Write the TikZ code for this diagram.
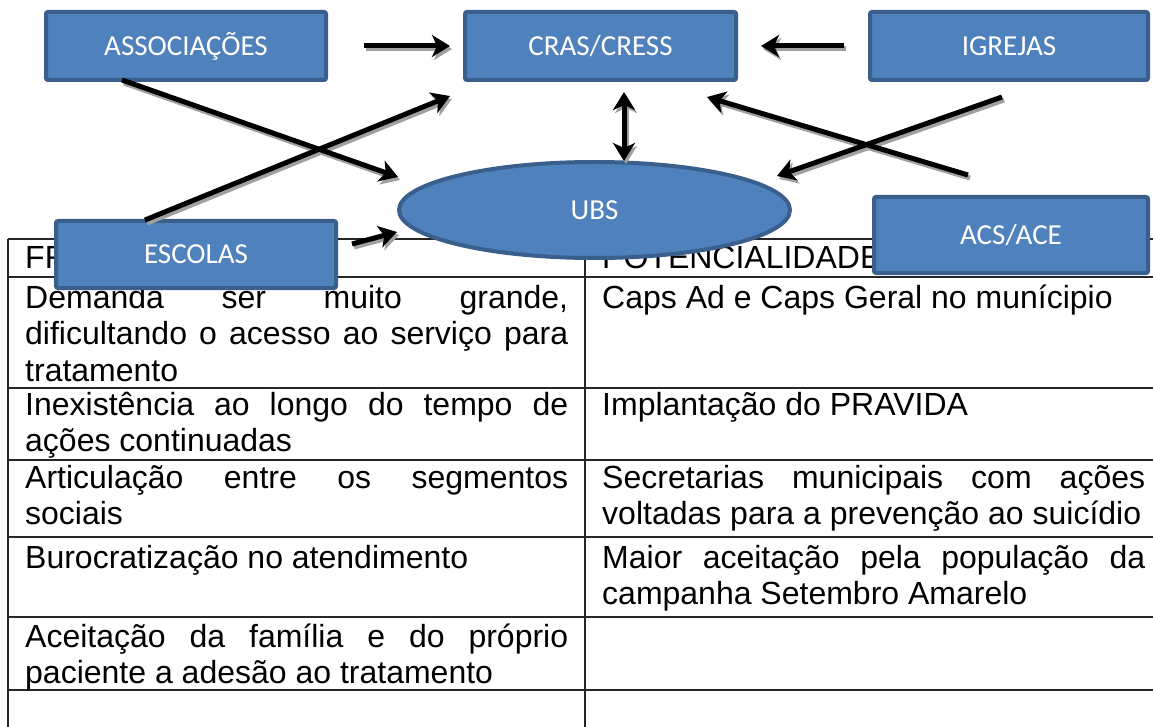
\documentclass[tikz,border=0pt]{standalone}
\usepackage{fontspec}
\newfontfamily\tabfont{Liberation Sans}
\newfontfamily\boxfont{Carlito}
\usetikzlibrary{arrows.meta,calc,shapes.geometric}
\definecolor{boxfill}{HTML}{4F81BD}
\definecolor{boxline}{HTML}{3A5F8C}
\definecolor{shadowgray}{HTML}{A0A0A0}
\hyphenpenalty=10000
\exhyphenpenalty=10000
\begin{document}
\begin{tikzpicture}[x=1pt,y=-1pt,
  orgbox/.style={draw=boxline, fill=boxfill, line width=4pt, rounded corners=2pt,
    text=white, font=\boxfont\fontsize{29}{34}\selectfont, inner sep=0pt, outer sep=0pt},
  orgell/.style={ellipse, draw=boxline, fill=boxfill, line width=4pt, text=white,
    font=\boxfont\fontsize{29}{34}\selectfont, inner sep=0pt, outer sep=0pt},
  conn/.style={line width=5pt, draw=black, -{Stealth[length=18pt,width=22pt,inset=5pt]}},
  dconn/.style={line width=5pt, draw=black, {Stealth[length=18pt,width=22pt,inset=5pt]}-{Stealth[length=18pt,width=22pt,inset=5pt]}},
  shade/.style={draw=shadowgray, transform canvas={shift={(2pt,-3pt)}}},
  tabline/.style={line width=1.2pt, draw=black!85},
  celltext/.style={anchor=north west, inner sep=0pt, text width=543pt, align=justify,
    font=\tabfont\fontsize{32}{36.8}\selectfont, execute at begin node=\strut},
  headtext/.style={anchor=base west, inner sep=0pt, font=\tabfont\fontsize{32}{36.8}\selectfont}
]
\useasboundingbox (0,0) rectangle (1153,727);
\fill[white] (0,0) rectangle (1153,727);

% ---- table ----
\foreach \yy in {239,277,388,460,537,617,690}
  \draw[tabline] (8,\yy) -- (1170,\yy);
\draw[tabline] (8,239) -- (8,740);
\draw[tabline] (585,239) -- (585,740);

\node[headtext] (h1) at (25,269) {FRAGILIDADES};
\node[headtext] (h2) at (602,269) {POTENCIALIDADES};

\node[celltext] (l1) at (25,282.2) {Demanda ser muito grande,\linebreak dificultando o acesso ao servi\c{c}o para\linebreak tratamento};
\node[celltext] (l2) at (25,389.2) {Inexist\^encia ao longo do tempo de\linebreak a\c{c}\~oes continuadas};
\node[celltext] (l3) at (25,462.2) {Articula\c{c}\~ao entre os segmentos\linebreak sociais};
\node[celltext] (l4) at (25,542.2) {Burocratiza\c{c}\~ao no atendimento};
\node[celltext] (l5) at (25,621.2) {Aceita\c{c}\~ao da fam\'ilia e do pr\'oprio\linebreak paciente a ades\~ao ao tratamento};

\node[celltext] (r1) at (602,282.2) {Caps Ad e Caps Geral no mun\'icipio};
\node[celltext] (r2) at (602,389.2) {Implanta\c{c}\~ao do PRAVIDA};
\node[celltext] (r3) at (602,462.2) {Secretarias municipais com a\c{c}\~oes\linebreak voltadas para a preven\c{c}\~ao ao suic\'idio};
\node[celltext] (r4) at (602,542.2) {Maior aceita\c{c}\~ao pela popula\c{c}\~ao da\linebreak campanha Setembro Amarelo};

% ---- shapes ----
\node[orgbox, minimum width=280pt, minimum height=68pt] (assoc) at (186,46) {ASSOCIA\c{C}\~OES};
\node[orgbox, minimum width=271pt, minimum height=68pt] (cras) at (600.5,46) {CRAS/CRESS};
\node[orgbox, minimum width=278pt, minimum height=68pt] (igrejas) at (1009,46) {IGREJAS};
\node[orgell, minimum width=391pt, minimum height=96pt] (ubs) at (594.5,210) {UBS};
\node[orgbox, minimum width=280pt, minimum height=67pt] (escolas) at (196,254.5) {ESCOLAS};
\node[orgbox, minimum width=274pt, minimum height=76pt] (acs) at (1011,235) {ACS/ACE};

% ---- connector end points ----
\coordinate (s1) at ($(assoc.east)+(38,0)$);
\coordinate (t1) at ($(cras.west)+(-15,0)$);
\coordinate (s2) at ($(igrejas.west)+(-26,0)$);
\coordinate (t2) at ($(cras.east)+(25,0)$);
\coordinate (s3) at ($(assoc.south west)+(76,0)$);
\coordinate (t3) at ($(ubs.center)+(-196.5,-33)$);
\coordinate (s4) at ($(escolas.north west)+(89,-1)$);
\coordinate (t4) at ($(cras.south west)+(-15,16)$);
\coordinate (s5) at ($(escolas.east)+(16,-10.5)$);
\coordinate (t5) at ($(ubs.center)+(-197.5,22)$);
\coordinate (t6a) at ($(cras.south)+(23.5,12)$);
\coordinate (t6b) at ($(ubs.north)+(29.5,-1)$);
\coordinate (s7) at ($(acs.north west)+(94,-22)$);
\coordinate (t7) at ($(cras.south east)+(-29,17)$);
\coordinate (s8) at ($(igrejas.south west)+(132,17)$);
\coordinate (t8) at ($(ubs.center)+(182.5,-34)$);

% ---- shadows ----
\draw[conn, shade] (s1) -- (t1);
\draw[conn, shade] (s2) -- (t2);
\draw[conn, shade] (s3) -- (t3);
\draw[conn, shade] (s4) -- (t4);
\draw[conn, shade] (s5) -- (t5);
\draw[dconn, shade] (t6a) -- (t6b);
\draw[conn, shade] (s7) -- (t7);
\draw[conn, shade] (s8) -- (t8);

% ---- connectors ----
\draw[conn] (s1) -- (t1);
\draw[conn] (s2) -- (t2);
\draw[conn] (s3) -- (t3);
\draw[conn] (s4) -- (t4);
\draw[conn] (s5) -- (t5);
\draw[dconn] (t6a) -- (t6b);
\draw[conn] (s7) -- (t7);
\draw[conn] (s8) -- (t8);
\end{tikzpicture}
\end{document}
